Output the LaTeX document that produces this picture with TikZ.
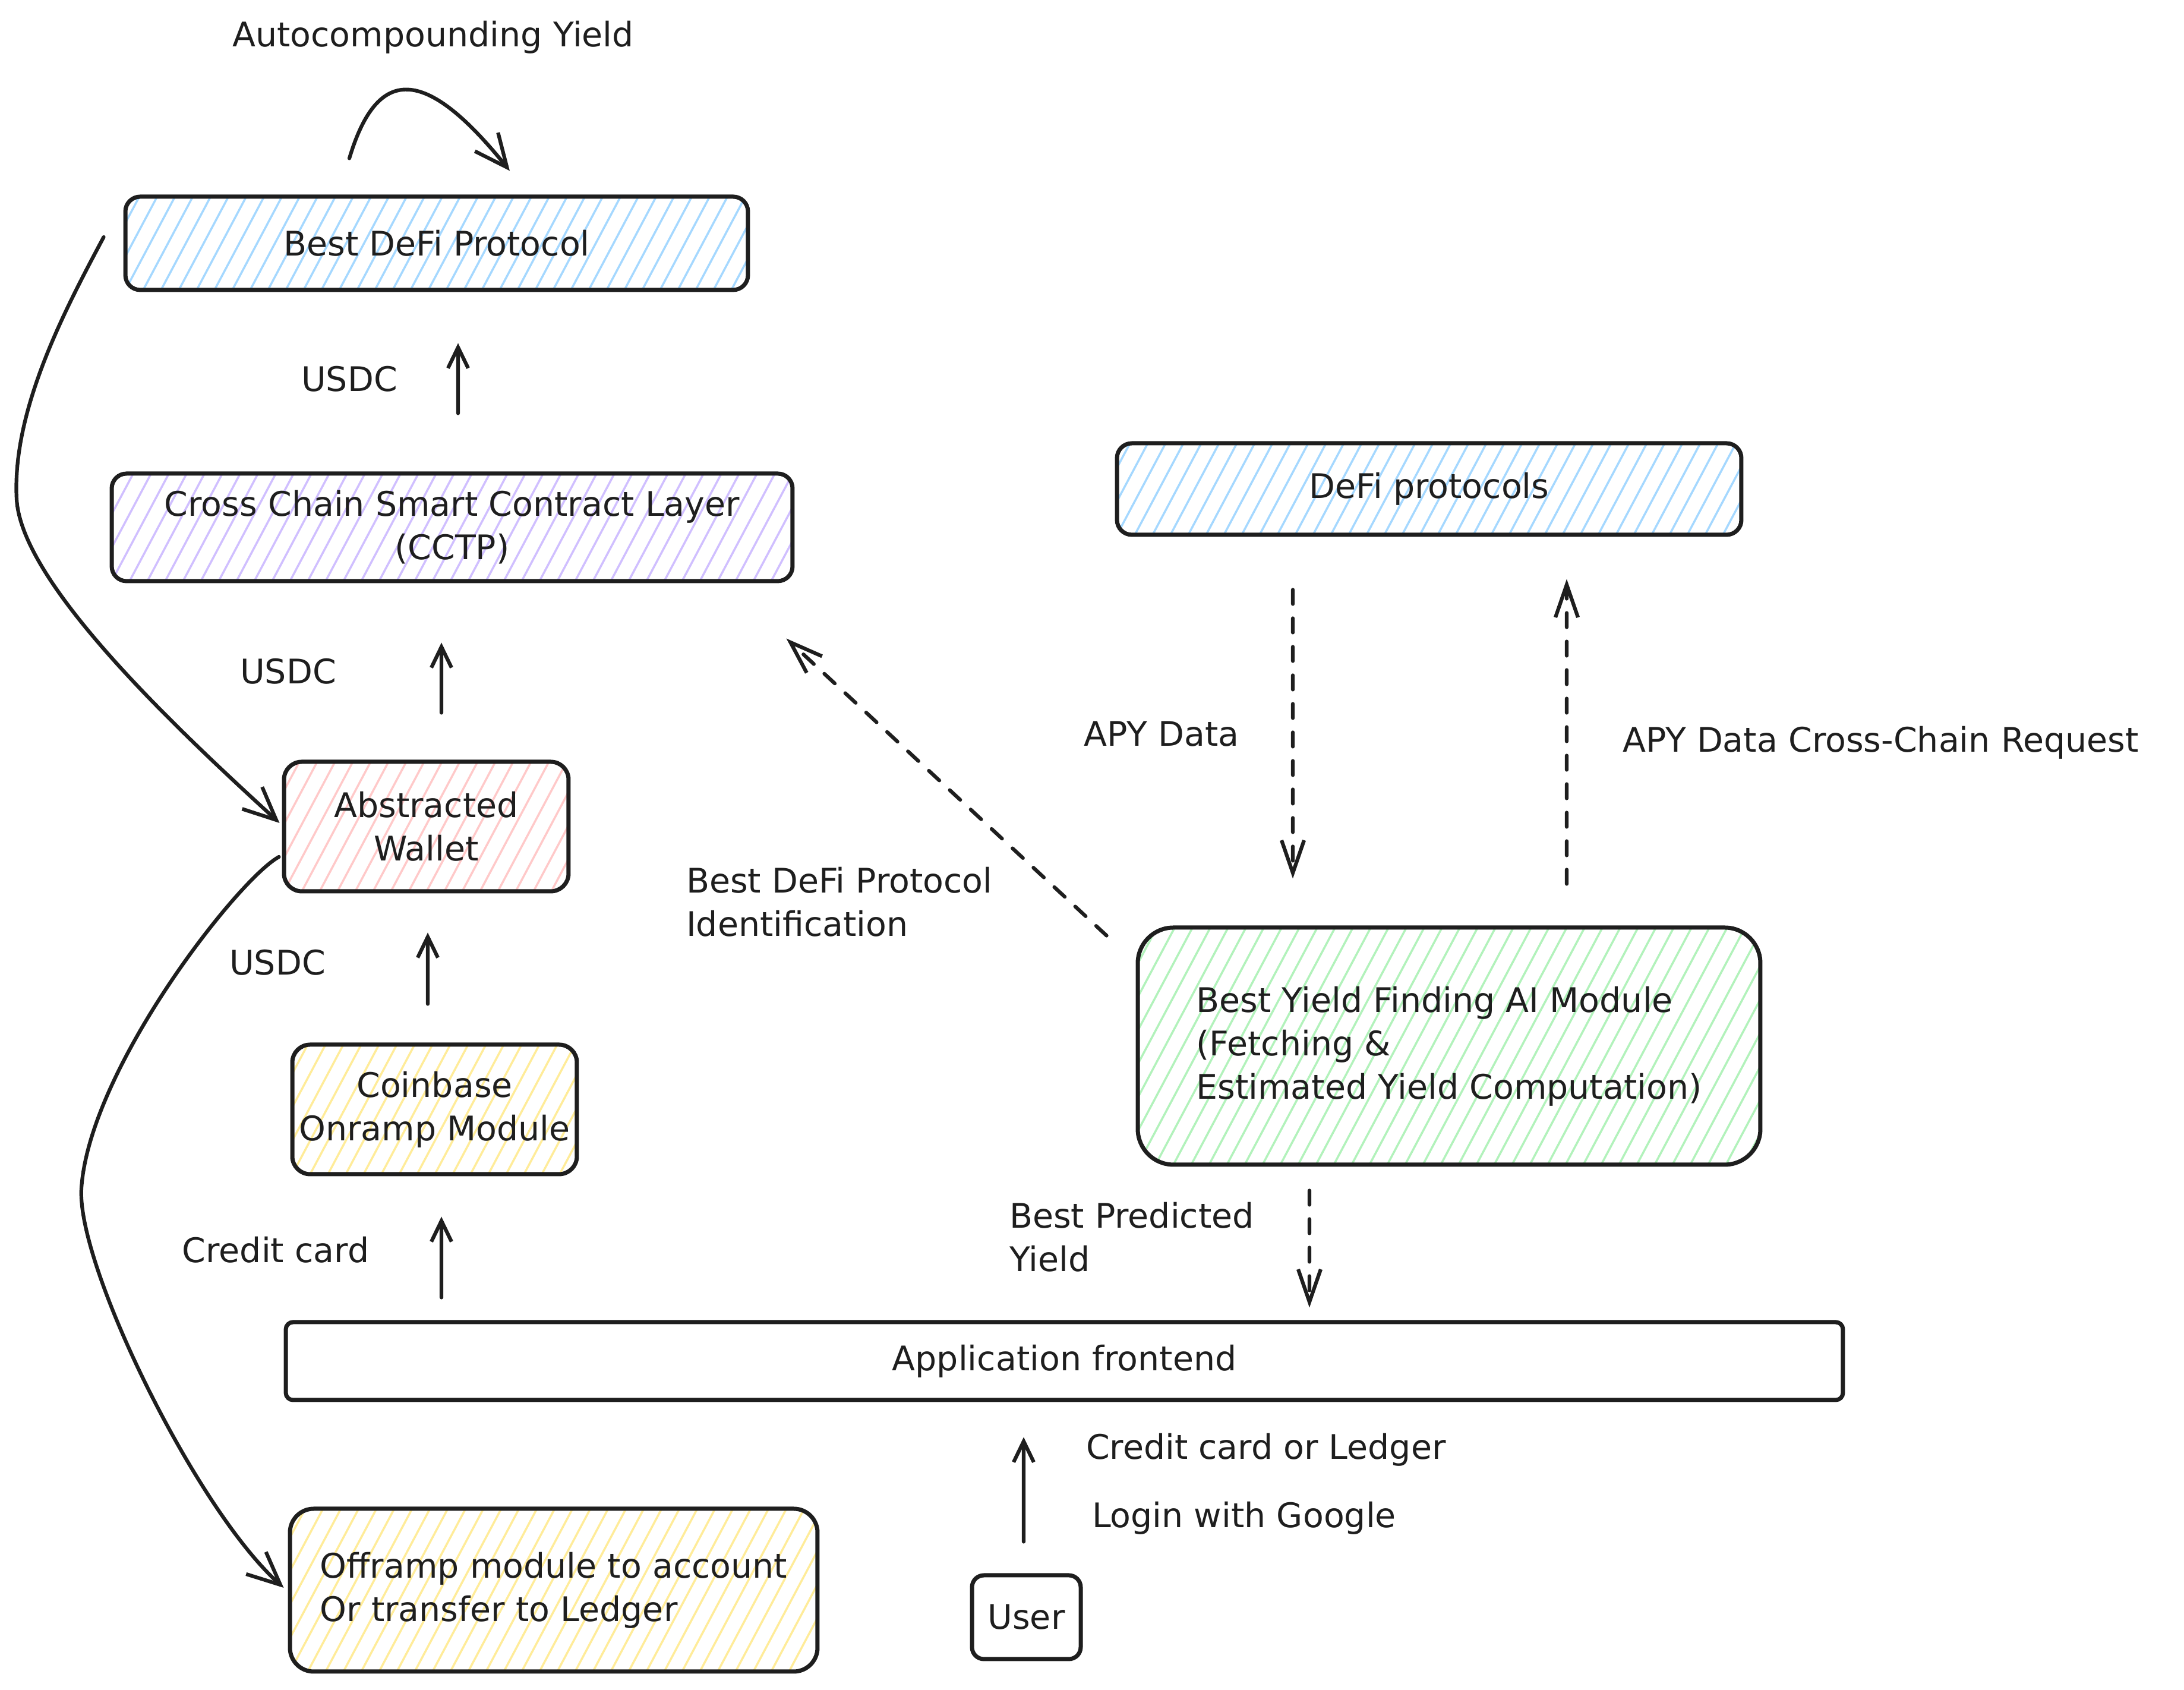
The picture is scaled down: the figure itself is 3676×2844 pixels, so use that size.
\documentclass[tikz,border=0pt]{standalone}
\usepackage{fontspec}
\setmainfont{DejaVu Sans}
\usetikzlibrary{arrows.meta}
\definecolor{ink}{HTML}{1E1E1E}
\definecolor{hblue}{HTML}{A5D8FF}
\definecolor{hpurple}{HTML}{D0BFFF}
\definecolor{hred}{HTML}{FFC9C9}
\definecolor{hyellow}{HTML}{FFEC99}
\definecolor{hgreen}{HTML}{B2F2BB}
\begin{document}
\begin{tikzpicture}[x=0.1pt,y=-0.1pt,
  txt/.style={font=\fontsize{5.7}{7.3}\selectfont, text=ink},
  box/.style={txt, draw=ink, line width=0.7pt, rounded corners=2.5pt, inner sep=0pt, align=center},
  hatch/.style={path picture={
      \foreach \k in {-12,...,42}{
        \draw[#1, line width=0.35pt] ([xshift=\k*3pt]path picture bounding box.south west) -- ++(62:90pt);
      }}},
  lbl/.style={txt, inner sep=0pt},
  arr/.style={draw=ink, line width=0.62pt, line cap=round, line join=round, -{Straight Barb[length=3.5pt,width=3.4pt]}},
  dsh/.style={arr, dash pattern=on 2.4pt off 2.4pt, -{Straight Barb[length=5.5pt,width=3.8pt]}},
  carr/.style={arr, -{Straight Barb[length=5.5pt,width=5pt]}}]

\useasboundingbox (0,0) rectangle (3676,2844);
\fill[white] (0,0) rectangle (3676,2844);

% boxes
\node[box,hatch=hblue,minimum width=104.8pt,minimum height=15.7pt] (bdp) at (735,409.5) {Best DeFi Protocol};
\node[box,hatch=hpurple,minimum width=114.6pt,minimum height=18.1pt] (cctp) at (761,887.5) {Cross Chain Smart Contract Layer\\(CCTP)};
\node[box,hatch=hred,rounded corners=3pt,minimum width=47.9pt,minimum height=21.8pt] (wal) at (717.5,1391) {Abstracted\\Wallet};
\node[box,hatch=hyellow,rounded corners=3pt,minimum width=47.9pt,minimum height=21.8pt] (cob) at (731.5,1867) {Coinbase\\Onramp Module};
\node[box,rounded corners=1.2pt,minimum width=262.1pt,minimum height=13.1pt] (app) at (1791.5,2290.5) {Application frontend};
\node[box,hatch=hyellow,rounded corners=4pt,align=left,minimum width=88.8pt,minimum height=27.4pt] (off) at (932,2676) {Offramp module to account\\Or transfer to Ledger};
\node[box,rounded corners=2pt,minimum width=18.3pt,minimum height=14.1pt] (usr) at (1727.5,2721.5) {User};
\node[box,hatch=hblue,minimum width=105.1pt,minimum height=15.4pt] (dfp) at (2405.5,823) {DeFi protocols};
\node[box,hatch=hgreen,rounded corners=6pt,align=left,minimum width=104.8pt,minimum height=39.9pt] (ai) at (2439,1760.5) {Best Yield Finding AI Module\\(Fetching \&\\Estimated Yield Computation)};

% labels
\node[lbl] (tauto) at (729,63) {Autocompounding Yield};
\node[lbl] (tu1) at (588,638) {USDC};
\node[lbl] (tu2) at (485,1130) {USDC};
\node[lbl] (tu3) at (467,1620) {USDC};
\node[lbl] (tcc) at (464,2103) {Credit card};
\node[lbl] (tapy) at (1955,1235) {APY Data};
\node[lbl,anchor=west] (treq) at (2729,1250) {APY Data Cross-Chain Request};
\node[lbl,anchor=west,align=left] (tid) at (1153,1518) {Best DeFi Protocol\\Identification};
\node[lbl,anchor=west,align=left] (tpred) at (1697,2082) {Best Predicted\\Yield};
\node[lbl,anchor=west] (tccl) at (1826,2440) {Credit card or Ledger};
\node[lbl,anchor=west] (tlog) at (1836,2555) {Login with Google};

% straight arrows
\draw[arr] ([xshift=1pt,yshift=9.8pt]cctp.north) -- ([xshift=3.6pt,yshift=-8.6pt]bdp.south);
\draw[arr] ([xshift=2.55pt,yshift=7.9pt]wal.north) -- ([xshift=-1.8pt,yshift=-10pt]cctp.south);
\draw[arr] ([xshift=-1.15pt,yshift=6.5pt]cob.north) -- ([xshift=0.25pt,yshift=-6.6pt]wal.south);
\draw[arr] ([xshift=-104.85pt,yshift=3.8pt]app.north) -- ([xshift=1.15pt,yshift=-6.8pt]cob.south);
\draw[arr] ([xshift=-0.45pt,yshift=5.3pt]usr.north) -- ([xshift=-6.85pt,yshift=-5.9pt]app.south);

% dashed arrows
\draw[dsh] ([xshift=-22.95pt,yshift=-8.9pt]dfp.south) -- ([xshift=-26.3pt,yshift=7.9pt]ai.north);
\draw[dsh] ([xshift=19.8pt,yshift=7pt]ai.north) -- ([xshift=23.15pt,yshift=-7.1pt]dfp.south);
\draw[dsh] ([xshift=-4.9pt,yshift=-1.7pt]ai.north west) -- ([xshift=-1.4pt,yshift=-9.3pt]cctp.south east);
\draw[dsh] ([xshift=-23.5pt,yshift=-4pt]ai.south) -- ([xshift=41.25pt,yshift=2.1pt]app.north);

% curved arrows
\draw[carr] ([xshift=-14.7pt,yshift=6.1pt]bdp.north) .. controls (635,110) and (715,110) .. ([xshift=12.3pt,yshift=4pt]bdp.north);
\draw[carr] ([xshift=-3.3pt,yshift=1.05pt]bdp.west) .. controls (110,520) and (20,690) .. (28,840)
  .. controls (36,980) and (290,1220) .. ([xshift=-0.4pt,yshift=0.6pt]wal.west);
\draw[carr] ([xshift=-0.5pt,yshift=-5.1pt]wal.west) .. controls (400,1480) and (150,1800) .. (137,2000)
  .. controls (129,2130) and (330,2540) .. ([xshift=-0.7pt,yshift=0.4pt]off.west);
\end{tikzpicture}
\end{document}
